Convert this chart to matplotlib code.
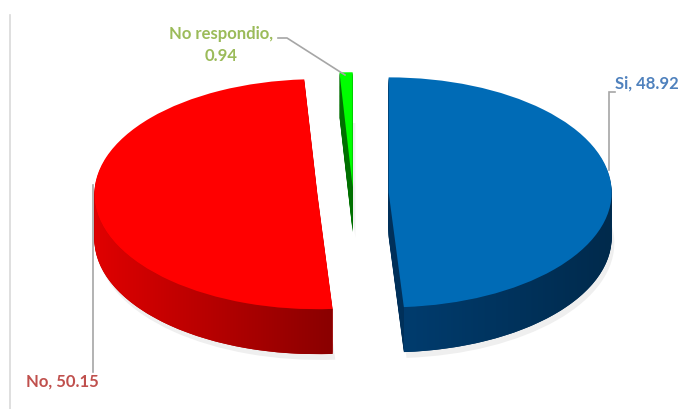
import numpy as np
import matplotlib.pyplot as plt
from matplotlib.colors import LinearSegmentedColormap
from matplotlib.patches import Polygon

# data
labels = ["Si", "No", "No respondio"]
values = [48.92, 50.15, 0.94]
explode = [0.16, 0.16, 0.05]
top_colors = ["#006bb6", "#ff0000", "#00ff00"]
side_colors = ["#00305a", "#b50000", "#007000"]
side_grad = [("#003c6e", "#002a4c"), ("#e00000", "#8a0000"), None]
label_colors = ["#4f81bd", "#c0504d", "#9bbb59"]

W, H = 683, 409
cx, cy = 353, 193          # pie centre in pixels (from top-left)
ax_px, ay_px = 223, 115    # ellipse semi-axes in pixels
depth = 45                 # thickness in pixels


def px(x, y):
    # pixel position (from top-left) -> data coords
    return (x - cx) / ax_px, (cy - y) / ay_px


plt.rcParams['font.family'] = ['Lato', 'DejaVu Sans']
fig = plt.figure(figsize=(W / 100, H / 100), dpi=100)
ax = fig.add_axes([0, 0, 1, 1])

d = depth / ay_px

# faint drop shadow
ax.pie(values, explode=explode, colors=["#efefef"] * 3, startangle=90,
       counterclock=False, center=(0.012, -d - 0.05),
       wedgeprops=dict(linewidth=0))

# extruded sides: stack darker pies downwards
n = 40
for i in range(n):
    ax.pie(values, explode=explode, colors=side_colors, startangle=90,
           counterclock=False, center=(0, -d * (1 - i / n)),
           wedgeprops=dict(linewidth=0))
# top faces
wedges, _ = ax.pie(values, explode=explode, colors=top_colors, startangle=90,
                   counterclock=False, center=(0, 0),
                   wedgeprops=dict(linewidth=0, zorder=5))

# horizontal shading of the curved front walls
for w, grad in zip(wedges, side_grad):
    if grad is None:
        continue
    th = np.radians(np.linspace(w.theta1, w.theta2, 400))
    th = th[np.sin(th) < 0]          # front (lower) half of the rim only
    x0, y0 = w.center
    xs = x0 + np.cos(th)
    ys = y0 + np.sin(th)
    poly = np.vstack([np.column_stack([xs, ys]),
                      np.column_stack([xs[::-1], ys[::-1] - d])])
    clip = Polygon(poly, closed=True, transform=ax.transData)
    cmap = LinearSegmentedColormap.from_list("g", list(grad))
    img = ax.imshow(np.linspace(0, 1, 256)[None, :], cmap=cmap, aspect='auto',
                    extent=(xs.min(), xs.max(), ys.min() - d, ys.max()),
                    zorder=3, interpolation='bilinear')
    img.set_clip_path(clip)

ax.set_aspect('auto')
ax.set_xlim(-cx / ax_px, (W - cx) / ax_px)
ax.set_ylim(-(H - cy) / ay_px, cy / ay_px)
ax.axis('off')

# leader lines
lc = "#a6a6a6"
for pts in ([(615, 92), (609, 92), (609, 170)],
            [(93, 185), (93, 372)],
            [(278, 38), (287, 38), (345, 75)]):
    xs, ys = zip(*[px(*p) for p in pts])
    ax.plot(xs, ys, color=lc, lw=1.2, solid_joinstyle='miter', zorder=6)

# data labels
fs = 12
ax.text(*px(615, 84), f"{labels[0]}, {values[0]:.2f}", color=label_colors[0],
        fontsize=fs, fontweight='bold', ha='left', va='center')
ax.text(*px(26, 382), f"{labels[1]}, {values[1]:.2f}", color=label_colors[1],
        fontsize=fs, fontweight='bold', ha='left', va='center')
ax.text(*px(221, 45), f"{labels[2]},\n{values[2]:.2f}", color=label_colors[2],
        fontsize=fs, fontweight='bold', ha='center', va='center',
        multialignment='center', linespacing=1.45)

# faint left border of the chart area
ax.plot(*zip(px(10, 15), px(10, 409)), color="#d9d9d9", lw=1.2)

fig.savefig("out.png", dpi=100)
